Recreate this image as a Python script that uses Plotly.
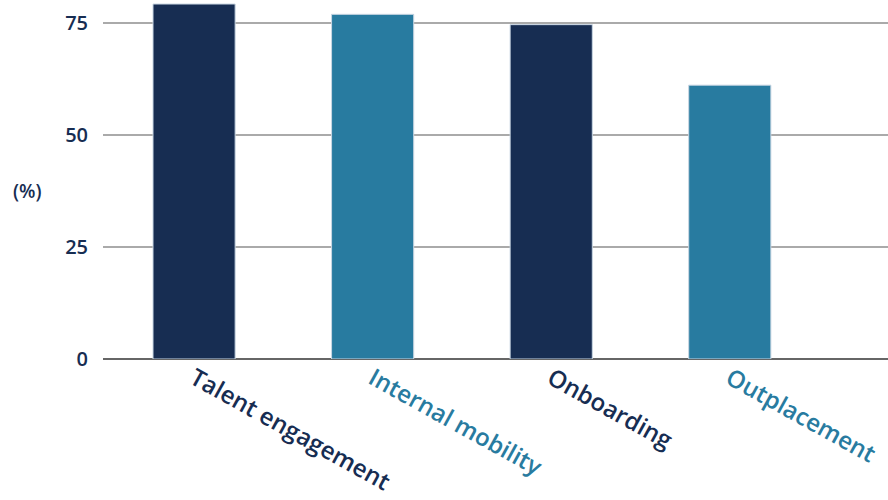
import plotly.graph_objects as go

categories = ["Talent engagement", "Internal mobility", "Onboarding", "Outplacement"]
values = [79.2, 76.9, 74.6, 61.1]
bar_colors = ["#172d52", "#287ba0", "#172d52", "#287ba0"]
y_ticks = [0, 25, 50, 75]

ticktext = [f"<span style='color:{c}'>{t}</span>" for t, c in zip(categories, bar_colors)]

FONT = "Open Sans"

fig = go.Figure(
    go.Bar(
        x=categories,
        y=values,
        marker=dict(color=bar_colors, line=dict(color="#c9d6e3", width=1)),
        width=0.46,
    )
)

fig.update_layout(
    width=888,
    height=500,
    margin=dict(l=103, r=0, t=0, b=141),
    plot_bgcolor="white",
    paper_bgcolor="white",
    showlegend=False,
    font=dict(family=FONT, color="#172d52"),
)

fig.update_xaxes(
    type="category",
    range=[-0.51, 3.886],
    tickmode="array",
    tickvals=categories,
    ticktext=ticktext,
    tickangle=29,
    tickfont=dict(size=24, family=FONT, color="#172d52", weight=600),
    showgrid=False,
    showline=False,
    ticks="",
)

fig.update_yaxes(
    range=[0, 80.1],
    tickvals=y_ticks,
    tickfont=dict(size=20, family=FONT, color="#172d52", weight=600),
    showgrid=True,
    gridcolor="#aaaaaa",
    gridwidth=1.5,
    zeroline=True,
    zerolinecolor="#666666",
    zerolinewidth=2,
    ticks="",
    ticklabelstandoff=14,
    showline=False,
)

fig.add_annotation(
    text="(%)",
    xref="paper", yref="paper",
    x=(27 - 103) / 785, y=(358.7 - 191) / 358.7,
    xanchor="center", yanchor="middle",
    showarrow=False,
    font=dict(size=19, family=FONT, color="#172d52", weight=600),
)

fig.write_html("out.html")
